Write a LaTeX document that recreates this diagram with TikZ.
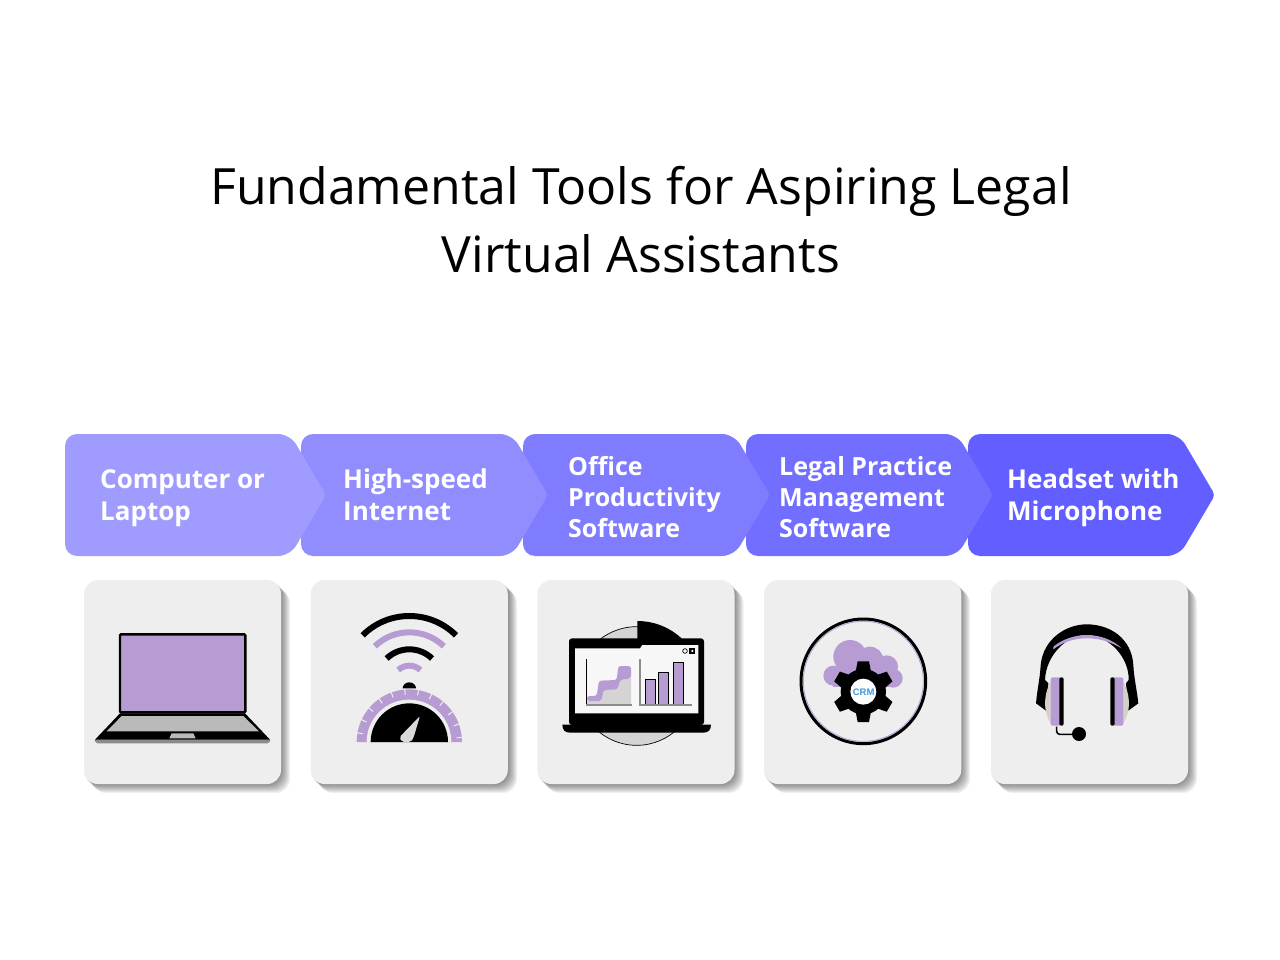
\documentclass[tikz,border=0pt]{standalone}
\usepackage{fontspec}
\setmainfont{Open Sans}
\newfontfamily\crmfont{Liberation Sans}
\usetikzlibrary{positioning}
\definecolor{lilac}{HTML}{B79CD4}
\definecolor{cardgray}{HTML}{EEEEEE}
\definecolor{cupbeige}{HTML}{D6D0C9}
\definecolor{crmblue}{HTML}{3A9BE2}
\definecolor{arrowone}{HTML}{A09CFF}
\definecolor{arrowtwo}{HTML}{918DFF}
\definecolor{arrowthree}{HTML}{807CFF}
\definecolor{arrowfour}{HTML}{726EFF}
\definecolor{arrowfive}{HTML}{625EFF}
\tikzset{
  arrowlabel/.style={text=white, anchor=south west, align=left, inner sep=0pt, text depth=7pt, font=\fontsize{26}{32}\selectfont\bfseries},
  arrowlabelthree/.style={arrowlabel, font=\fontsize{25}{31}\selectfont\bfseries},
  card/.style={fill=cardgray, rounded corners=14pt, minimum width=197pt, minimum height=204pt, inner sep=0pt},
  shadowlayer/.style={fill=black, fill opacity=0.055, rounded corners=14pt},
  icon/.style={scale=1/3},
}
% one arrow: left edge, tip, colour
\newcommand{\arrowbody}[3]{
  \fill[#3, rounded corners=12pt] (#1,434) -- (#2-35,434) [rounded corners=4pt] -- (#2+1,495) [rounded corners=12pt] -- (#2-35,556) -- (#1,556) -- cycle;
}
\newcommand{\cardshadow}[2]{
  \foreach \s in {0,1,...,8}
    \path[shadowlayer] (#1+8-\s,589-\s) rectangle (#1+205-\s+1,#2+8-\s+1);
}
\begin{document}
\begin{tikzpicture}[x=1pt,y=-1pt]
\useasboundingbox (0,0) rectangle (1280,960);
\fill[white] (0,0) rectangle (1280,960);

\node[font=\fontsize{50}{68}\selectfont, align=center, inner sep=0pt] (title) at (641,220) {Fundamental Tools for Aspiring Legal\\Virtual Assistants};

% arrows, last one first
\arrowbody{968}{1214}{arrowfive}
\arrowbody{746}{992}{arrowfour}
\arrowbody{523}{769}{arrowthree}
\arrowbody{301}{547}{arrowtwo}
\arrowbody{65}{325}{arrowone}

\node[arrowlabel] (computer_text) at (100,528) {Computer or\\Laptop};
\node[arrowlabel] (internet_text) at (343,528) {High-speed\\Internet};
\node[arrowlabelthree] (office_text) at (568,544.5) {Office\\Productivity\\Software};
\node[arrowlabelthree] (legal_text) at (779,544.5) {Legal Practice\\Management\\Software};
\node[arrowlabel] (headset_text) at (1007,528) {Headset with\\Microphone};

% cards
\cardshadow{84}{784}
\cardshadow{311}{784}
\cardshadow{537.5}{784}
\cardshadow{764}{784}
\cardshadow{991}{784}
\node[card] (laptop_card) at (182.5,682) {};
\node[card, right=29.35pt of laptop_card] (internet_card) {};
\node[card, right=29.35pt of internet_card] (office_card) {};
\node[card, right=29.35pt of office_card] (legal_card) {};
\node[card, right=29.35pt of legal_card] (headset_card) {};

% laptop
\begin{scope}[shift={(75,570)},icon]
  \fill[black!45] (60,508) -- (585,508) -- (585,514) to[bend left=20] (578,520) -- (67,520) to[bend left=20] (60,514) -- cycle;
  \fill[black] (135,430) -- (510,430) -- (585,509) -- (60,509) -- cycle;
  \fill[black!27] (140,438) -- (505,438) -- (552,484) -- (95,484) -- cycle;
  \fill[black!27] (290,490) -- (355,490) -- (362,505) -- (283,505) -- cycle;
  \draw[line width=2.4pt, fill=lilac, rounded corners=1pt] (135,193) rectangle (511,427);
\end{scope}

% wifi and speed gauge
\begin{scope}[shift={(340,600)},icon]
  \draw[line width=6pt] (208,246) ++(-45:198) arc[start angle=-45, end angle=-135, radius=198];
  \draw[lilac, line width=6pt] (208,246) ++(-46:149) arc[start angle=-46, end angle=-134, radius=149];
  \draw[line width=6pt] (208,246) ++(-46:98) arc[start angle=-46, end angle=-134, radius=98];
  \draw[lilac, line width=6pt] (208,246) ++(-47:49) arc[start angle=-47, end angle=-133, radius=49];
  \fill (188,265) arc[start angle=180, end angle=360, x radius=20, y radius=18] -- cycle;
  \fill[lilac] (50,426) arc[start angle=180, end angle=360, radius=158] -- cycle;
  \foreach \a in {-5,-20,...,-175}
    \draw[cardgray, line width=1pt] (208,426) ++(\a:142) -- ++(\a:18);
  \fill[cardgray] (80,426) arc[start angle=180, end angle=360, radius=127] -- cycle;
  \fill[black] (92,426) arc[start angle=180, end angle=360, radius=116] -- cycle;
  \fill[black!15, rounded corners=2pt] (240,348) -- (220,415) -- (212,426) -- (186,426) -- (178,412) -- cycle;
\end{scope}

% office laptop with charts
\begin{scope}[shift={(555,610)},icon]
  \draw[line width=0.7pt, fill=black!17] (245,228) circle[radius=178];
  \fill (247,228) -- (247,33) arc[start angle=-90, end angle=-42, radius=195] -- cycle;
  \fill[rounded corners=3pt] (42,345) -- (42,85) -- (447,85) -- (447,345) -- cycle;
  \fill (22,344) -- (468,344) .. controls (468,360) and (460,368) .. (445,368) -- (45,368) .. controls (30,368) and (22,360) .. (22,344) -- cycle;
  \fill[black!3] (60,115) -- (255,115) -- (262,105) -- (430,105) -- (430,310) -- (60,310) -- cycle;
  \draw[line width=0.7pt] (390,123) circle[radius=7];
  \fill (403,114) rectangle (421,132);
  \fill[black!3] (412,123) circle[radius=4];
  \fill[black!17] (95,272) -- (140,272) -- (148,240) -- (188,235) -- (195,210) -- (228,205) -- (228,285) -- (95,285) -- cycle;
  \fill[lilac, rounded corners=2.5pt] (96,258) -- (125,258) -- (132,212) -- (185,210) -- (190,168) -- (228,168) -- (228,205) -- (195,210) -- (188,238) -- (146,240) -- (140,273) -- (96,273) -- cycle;
  \draw[line width=0.7pt] (94,148) -- (94,285);
  \draw[black!45, line width=1.2pt] (94,285) -- (230,285);
  \draw[black!45, line width=1.2pt] (255,148) -- (255,285) -- (410,285);
  \draw[line width=0.7pt, fill=lilac] (270,283) -- (270,208) -- (300,208) -- (300,283);
  \draw[line width=0.7pt, fill=lilac] (311,283) -- (311,187) -- (341,187) -- (341,283);
  \draw[line width=0.7pt, fill=lilac] (356,283) -- (356,157) -- (386,157) -- (386,283);
\end{scope}

% crm gear in a cloud
\begin{scope}[shift={(790,610)},icon]
  \draw[lilac, line width=0.8pt] (220,214) circle[radius=180];
  \draw[line width=3pt] (220,214) circle[radius=187];
  \fill[lilac] (130,197) circle[radius=30] (180,140) circle[radius=50] (240,150) circle[radius=40] (290,170) circle[radius=34] (310,205) circle[radius=28];
  \fill[lilac] (130,170) rectangle (310,232);
  \fill (220,245) circle[radius=68];
  \foreach \a in {90,150,210,270,330,30}
    \fill[rotate around={\a:(220,245)}] (280,222) -- (311,228) -- (311,262) -- (280,268) -- cycle;
  \fill[white] (220,245) circle[radius=39];
  \node[text=crmblue, font=\crmfont\fontsize{9.5}{10}\selectfont\bfseries, inner sep=0pt] (crm_text) at (221,246) {CRM};
\end{scope}

% headset
\begin{scope}[shift={(1020,615)},icon]
  \fill (48,265) .. controls (52,220) and (60,190) .. (62,150) .. controls (70,70) and (140,28) .. (200,28) .. controls (270,28) and (335,70) .. (340,150) .. controls (342,190) and (350,220) .. (355,265) -- (325,287) -- (318,205) -- (326,195) .. controls (328,130) and (270,62) .. (200,60) .. controls (140,60) and (78,120) .. (75,195) -- (85,205) -- (78,287) -- cycle;
  \fill[lilac] (100,95) .. controls (130,70) and (170,60) .. (200,60) .. controls (240,60) and (280,75) .. (305,100) .. controls (270,80) and (240,70) .. (200,70) .. controls (165,70) and (130,80) .. (100,103) -- cycle;
  \fill[cupbeige] (92,200) .. controls (75,230) and (65,280) .. (92,325) -- cycle;
  \fill[cupbeige] (310,200) .. controls (327,230) and (337,280) .. (310,325) -- cycle;
  \fill[lilac, rounded corners=2pt] (92,187) rectangle (122,332);
  \fill[rounded corners=1.5pt] (118,187) rectangle (131,332);
  \fill[lilac, rounded corners=2pt] (280,187) rectangle (310,332);
  \fill[rounded corners=1.5pt] (271,187) rectangle (284,332);
  \draw[line width=1.5pt, rounded corners=3pt] (110,335) -- (110,358) -- (170,358);
  \fill (177,357) circle[radius=21];
\end{scope}
\end{tikzpicture}
\end{document}
